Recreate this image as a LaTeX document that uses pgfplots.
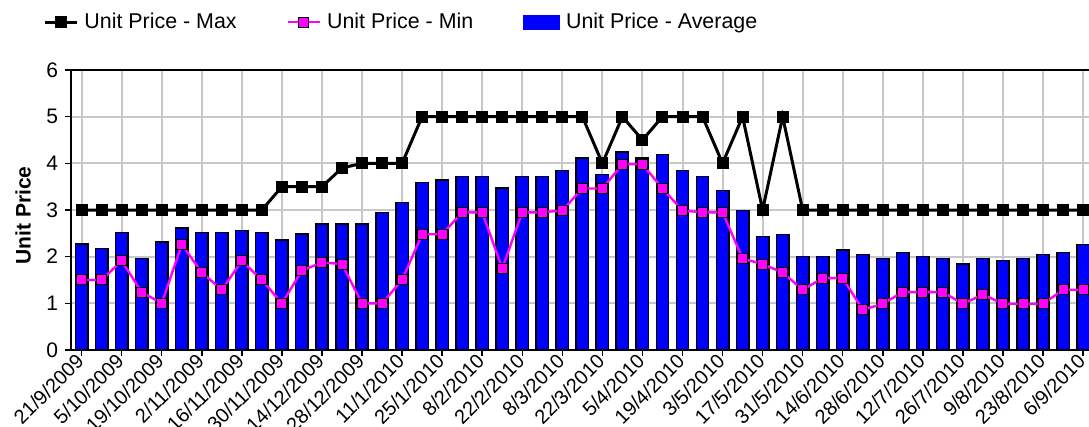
\documentclass[border=0pt]{standalone}
\usepackage{fontspec}
\setmainfont{Liberation Sans}
\usepackage{pgfplots}
\usepackage{pgfplotstable}
\pgfplotsset{compat=1.18}
\definecolor{barblue}{RGB}{0,0,255}
\definecolor{minpink}{RGB}{255,0,255}
\definecolor{gridgray}{RGB}{200,200,200}
\pgfplotstableread{
i max min avg
0 3 1.5 2.27
1 3 1.5 2.18
2 3 1.91 2.52
3 3 1.24 1.96
4 3 1.0 2.31
5 3 2.26 2.61
6 3 1.66 2.52
7 3 1.29 2.52
8 3 1.91 2.56
9 3 1.5 2.52
10 3.5 1.0 2.36
11 3.5 1.7 2.49
12 3.5 1.88 2.7
13 3.9 1.84 2.7
14 4 1.0 2.7
15 4 1.0 2.95
16 4 1.5 3.16
17 5 2.48 3.59
18 5 2.48 3.64
19 5 2.95 3.72
20 5 2.95 3.72
21 5 1.75 3.47
22 5 2.95 3.72
23 5 2.95 3.72
24 5 2.99 3.85
25 5 3.46 4.11
26 4 3.46 3.76
27 5 3.98 4.24
28 4.5 3.98 4.11
29 5 3.46 4.19
30 5 2.99 3.85
31 5 2.95 3.72
32 4 2.95 3.42
33 5 1.96 2.99
34 3 1.84 2.43
35 5 1.66 2.48
36 3 1.29 2.0
37 3 1.54 2.0
38 3 1.54 2.14
39 3 0.86 2.05
40 3 0.99 1.96
41 3 1.24 2.09
42 3 1.24 2.0
43 3 1.24 1.96
44 3 0.99 1.84
45 3 1.19 1.96
46 3 0.99 1.92
47 3 0.99 1.96
48 3 0.99 2.05
49 3 1.29 2.09
50 3 1.29 2.26
}\datatable
\begin{document}
\begin{tikzpicture}
\begin{axis}[
  at={(0,0)}, anchor=south west,
  scale only axis,
  width=510.05pt, height=140pt,
  xmin=-0.53, xmax=50.4,
  ymin=0, ymax=6,
  ytick={0,1,2,3,4,5,6},
  xtick={0,2,...,50},
  xticklabels={21/9/2009,5/10/2009,19/10/2009,2/11/2009,16/11/2009,30/11/2009,14/12/2009,28/12/2009,11/1/2010,25/1/2010,8/2/2010,22/2/2010,8/3/2010,22/3/2010,5/4/2010,19/4/2010,3/5/2010,17/5/2010,31/5/2010,14/6/2010,28/6/2010,12/7/2010,26/7/2010,9/8/2010,23/8/2010,6/9/2010},
  xticklabel style={rotate=45, anchor=east, font=\fontsize{10}{12}\selectfont, inner sep=1pt},
  yticklabel style={font=\fontsize{10.5}{12}\selectfont},
  /pgf/number format/assume math mode=true,
  tick align=outside,
  major tick length=3pt,
  tick style={black, line width=0.75pt},
  xtick pos=bottom, ytick pos=left,
  grid=major,
  major grid style={gridgray, line width=1pt},
  axis line style={black, line width=1pt},
  ylabel={\bfseries Unit Price},
  ylabel style={at={(axis description cs:-0.047,0.48)}, anchor=center, font=\fontsize{10.5}{12}\selectfont},
  legend columns=3,
  legend style={draw=none, fill=none, inner sep=0pt, outer sep=0pt,
    at={(axis description cs:-0.027,1.171)}, anchor=west,
    font=\fontsize{10.7}{12}\selectfont,
    nodes={inner sep=0pt},
    /tikz/every odd column/.append style={column sep=3pt},
    /tikz/every even column/.append style={column sep=25pt}},
  legend image code/.code={\draw[#1] (0pt,0pt) -- (16pt,0pt); \draw[#1, mark repeat=1] plot coordinates {(8pt,0pt)};},
]
\addplot[ybar, bar width=0.62, fill=barblue, draw=black, line width=0.75pt, forget plot] table[x=i, y=avg] {\datatable};
\addplot[black, line width=1.5pt, mark=square*, mark size=2.75pt, mark options={solid, fill=black, draw=black, line width=0.5pt}] table[x=i, y=max] {\datatable};
\addlegendentry{Unit Price - Max}
\addplot[minpink, line width=1.2pt, mark=square*, mark size=2.5pt, mark options={solid, fill=minpink, draw=black, line width=0.5pt}] table[x=i, y=min] {\datatable};
\addlegendentry{Unit Price - Min}
\addlegendimage{legend image code/.code={\fill[barblue] (0pt,-3.5pt) rectangle (18pt,3.5pt);}}
\addlegendentry{Unit Price - Average}
\end{axis}
\pgfresetboundingbox
\path[use as bounding box] (-35.5pt,-38.5pt) rectangle (509pt,175pt);
\end{tikzpicture}
\end{document}
